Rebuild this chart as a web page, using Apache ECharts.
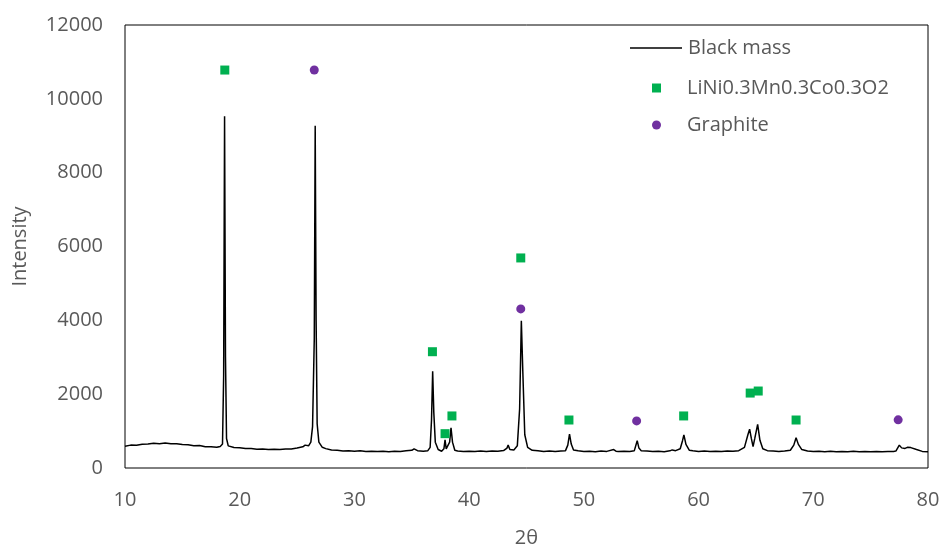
<!DOCTYPE html>
<html>
<head>
<meta charset="utf-8">
<script src="https://cdn.jsdelivr.net/npm/echarts@6/dist/echarts.min.js"></script>
<style>html,body{margin:0;padding:0;background:#fff;}#c{width:941px;height:548px;}</style>
</head>
<body>
<div id="c"></div>
<script>
var twoTheta = [10.0,10.5,11.0,11.5,12.0,12.5,13.0,13.5,14.0,14.5,15.0,15.5,16.0,16.5,17.0,17.5,18.0,18.3,18.5,18.6,18.68,18.76,18.85,19.0,19.5,20.0,20.5,21.0,21.5,22.0,22.5,23.0,23.5,24.0,24.5,25.0,25.5,25.7,26.0,26.2,26.35,26.5,26.58,26.66,26.75,26.9,27.2,27.5,28.0,28.5,29.0,29.5,30.0,30.5,31.0,31.5,32.0,32.5,33.0,33.5,34.0,34.5,35.0,35.2,35.5,36.0,36.4,36.6,36.72,36.82,36.92,37.05,37.3,37.6,37.8,37.9,38.0,38.15,38.3,38.42,38.55,38.75,39.0,39.5,40.0,40.5,41.0,41.5,42.0,42.5,43.0,43.3,43.4,43.55,43.9,44.2,44.4,44.55,44.68,44.85,45.1,45.5,46.0,46.5,47.0,47.5,48.0,48.4,48.6,48.75,48.9,49.1,49.5,50.0,50.5,51.0,51.5,52.0,52.6,52.8,53.0,53.5,54.0,54.4,54.65,54.8,55.0,55.5,56.0,56.5,57.0,57.5,57.7,58.0,58.4,58.6,58.72,58.9,59.2,59.5,60.0,60.5,61.0,61.5,62.0,62.5,63.0,63.5,64.0,64.3,64.45,64.6,64.75,64.9,65.15,65.35,65.6,66.0,66.5,67.0,67.5,68.0,68.3,68.5,68.7,69.0,69.5,70.0,70.5,71.0,71.5,72.0,72.5,73.0,73.5,74.0,74.5,75.0,75.5,76.0,76.5,77.0,77.2,77.35,77.5,77.7,78.0,78.2,78.5,79.0,79.5,80.0];
var intensity = [590,620,615,645,650,672,660,675,655,660,635,630,605,610,578,575,560,585,650,2500,9530,3000,800,600,555,550,528,525,508,515,498,505,498,515,515,540,575,620,600,700,1120,3500,9270,4000,1200,700,560,525,485,480,462,470,455,465,450,457,445,452,442,455,450,465,478,520,470,455,470,560,1300,2620,1500,700,500,455,520,760,520,480,700,1090,700,480,460,445,455,448,458,445,460,455,472,540,620,500,490,600,1600,3990,2600,900,560,480,465,450,458,445,460,470,620,920,650,490,465,450,455,442,458,450,500,455,445,452,448,470,740,540,470,458,445,455,442,465,490,470,520,740,895,640,480,465,450,458,445,457,448,460,452,470,560,900,1050,800,580,800,1180,750,520,470,458,445,460,480,620,820,640,500,462,450,455,440,452,443,450,438,452,441,448,437,450,440,446,450,458,505,620,545,530,560,552,500,450,442,430];

var nmcX = [18.7,36.8,37.9,38.5,44.5,48.7,58.7,64.5,65.2,68.5];
var nmcY = [10780,3150,930,1410,5690,1300,1410,2030,2085,1300];
var graphiteX = [26.5,44.5,54.6,77.4];
var graphiteY = [10780,4310,1275,1305];

var xTicks = [10,20,30,40,50,60,70,80];
var yTicks = [0,2000,4000,6000,8000,10000,12000];

var names = ['Black mass','LiNi0.3Mn0.3Co0.3O2','Graphite'];

function zip(a,b){var r=[];for(var i=0;i<a.length;i++){r.push([a[i],b[i]]);}return r;}

var FONT = '"Open Sans", "Noto Sans", sans-serif';
var TXT = '#595959';
var TS = {color:TXT,fontSize:20,fontFamily:FONT,fontWeight:'normal'};

var chart = echarts.init(document.getElementById('c'), null, {renderer:'canvas'});
chart.setOption({
  animation:false,
  backgroundColor:'#fff',
  grid:{left:125,right:13,top:25,bottom:80,outerBoundsMode:'none',containLabel:false,show:true,borderColor:'#000',borderWidth:1,backgroundColor:'transparent'},
  xAxis:{
    type:'value',min:xTicks[0],max:xTicks[xTicks.length-1],interval:10,
    name:'2θ',nameLocation:'middle',nameGap:60,
    nameTextStyle:TS,
    axisLine:{show:false},axisTick:{show:false},splitLine:{show:false},
    axisLabel:Object.assign({margin:22,formatter:function(v){return String(v);}},TS)
  },
  yAxis:{
    type:'value',min:yTicks[0],max:yTicks[yTicks.length-1],interval:2000,
    name:'Intensity',nameLocation:'middle',nameGap:95,
    nameTextStyle:TS,
    axisLine:{show:false},axisTick:{show:false},splitLine:{show:false},
    axisLabel:Object.assign({margin:22,formatter:function(v){return String(v);}},TS)
  },
  legend:[
    {data:[{name:names[0],icon:'rect'}],orient:'vertical',left:625,top:33,itemWidth:52,itemHeight:1.3,
     itemStyle:{color:'#000'},textStyle:Object.assign({padding:[0,0,0,1]},TS)},
    {data:[names[1]],orient:'vertical',left:647,top:73,itemWidth:9,itemHeight:9,icon:'rect',
     textStyle:Object.assign({padding:[0,0,0,21]},TS)},
    {data:[names[2]],orient:'vertical',left:647,top:110,itemWidth:9,itemHeight:9,icon:'circle',
     textStyle:Object.assign({padding:[0,0,0,21]},TS)}
  ],
  series:[
    {name:names[0],type:'line',data:zip(twoTheta,intensity),symbol:'none',showSymbol:false,
     lineStyle:{color:'#000',width:1.5},itemStyle:{color:'#000'},z:2},
    {name:names[1],type:'scatter',data:zip(nmcX,nmcY),symbol:'rect',symbolSize:9,
     itemStyle:{color:'#00B050',opacity:1},z:3},
    {name:names[2],type:'scatter',data:zip(graphiteX,graphiteY),symbol:'circle',symbolSize:9,
     itemStyle:{color:'#7030A0',opacity:1},z:3}
  ]
});
</script>
</body>
</html>
